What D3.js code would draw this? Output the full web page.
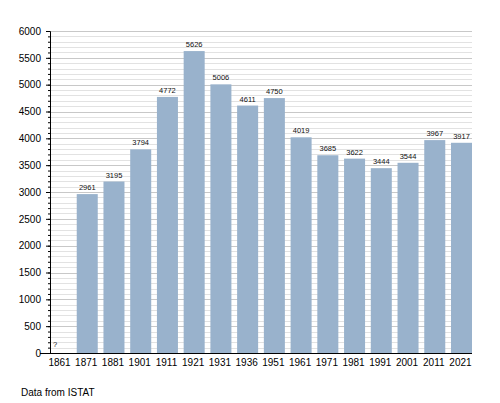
<!DOCTYPE html>
<html>
<head>
<meta charset="utf-8">
<script src="https://cdn.jsdelivr.net/npm/d3@7"></script>
<style>
    body { margin: 0; background: #fff; }
    text { font-family: "Liberation Sans", Arial, sans-serif; }
</style>
</head>
<body>
<div id="chart"></div>
<script>
// census years and population (null = unknown)
let years = ["1861", "1871", "1881", "1901", "1911", "1921", "1931", "1936",
             "1951", "1961", "1971", "1981", "1991", "2001", "2011", "2021"];
let population = [null, 2961, 3195, 3794, 4772, 5626, 5006, 4611,
                  4750, 4019, 3685, 3622, 3444, 3544, 3967, 3917];
let majorTicks = [0, 500, 1000, 1500, 2000, 2500, 3000, 3500, 4000, 4500, 5000, 5500, 6000];
let minorTicks = d3.range(0, 6001, 100);

let width = 500, height = 403;
let margin = {top: 31, right: 28, bottom: 50, left: 50};
let innerW = width - margin.left - margin.right;
let innerH = height - margin.top - margin.bottom;

let svg = d3.select("#chart").append("svg")
    .attr("width", width)
    .attr("height", height);

let g = svg.append("g")
    .attr("transform", `translate(${margin.left}, ${margin.top})`);

let x = d3.scaleBand()
    .domain(years)
    .range([0, innerW])
    .paddingInner(0.214)
    .paddingOuter(0);

let y = d3.scaleLinear()
    .domain([0, 6000])
    .range([innerH, 0]);

// grid lines
g.append("g").selectAll("line")
    .data(minorTicks.filter(d => d % 500 !== 0))
    .enter().append("line")
    .attr("x1", 0).attr("x2", innerW)
    .attr("y1", d => Math.round(y(d)) + 0.5)
    .attr("y2", d => Math.round(y(d)) + 0.5)
    .attr("stroke", "#e2e2e2");

g.append("g").selectAll("line")
    .data(majorTicks.filter(d => d > 0))
    .enter().append("line")
    .attr("x1", 0).attr("x2", innerW)
    .attr("y1", d => Math.round(y(d)) + 0.5)
    .attr("y2", d => Math.round(y(d)) + 0.5)
    .attr("stroke", "#c8c8c8");

// bars
let data = years.map((yr, i) => ({year: yr, value: population[i]}));

g.selectAll(".bar")
    .data(data.filter(d => d.value !== null))
    .enter().append("rect")
    .attr("class", "bar")
    .attr("x", d => x(d.year))
    .attr("y", d => y(d.value))
    .attr("width", x.bandwidth())
    .attr("height", d => innerH - y(d.value))
    .attr("fill", "#99b2cc");

// value labels
g.selectAll(".val")
    .data(data)
    .enter().append("text")
    .attr("class", "val")
    .attr("x", d => d.value === null ? x(d.year) + 3 : x(d.year) + x.bandwidth() / 2)
    .attr("y", d => d.value === null ? y(0) - 6 : y(d.value) - 4)
    .attr("text-anchor", d => d.value === null ? "start" : "middle")
    .attr("font-size", "7.5px")
    .attr("fill", "#111")
    .text(d => d.value === null ? "?" : d.value);

// y axis
let yAxis = g.append("g")
    .call(d3.axisLeft(y).tickValues(majorTicks).tickSize(4).tickFormat(d3.format("d")));
yAxis.selectAll("text").attr("font-size", "10px").attr("fill", "#000").attr("dx", "-2");
yAxis.select(".domain").attr("stroke", "#000");
yAxis.selectAll(".tick line").attr("stroke", "#000");

g.append("g")
    .call(d3.axisLeft(y).tickValues(minorTicks).tickSize(2).tickFormat(""))
    .call(a => a.select(".domain").remove())
    .selectAll(".tick line").attr("stroke", "#000");

// x axis
let xAxis = g.append("g")
    .attr("transform", `translate(0, ${innerH})`)
    .call(d3.axisBottom(x).tickSize(0).tickPadding(6));
xAxis.select(".domain").attr("stroke", "#000").attr("d", `M-10,0.5H${innerW}`);
xAxis.selectAll("text").attr("font-size", "10px").attr("fill", "#000").attr("dx", "-1");

// source note
svg.append("text")
    .attr("x", 21)
    .attr("y", 396)
    .attr("font-size", "10px")
    .text("Data from ISTAT");
</script>
</body>
</html>
